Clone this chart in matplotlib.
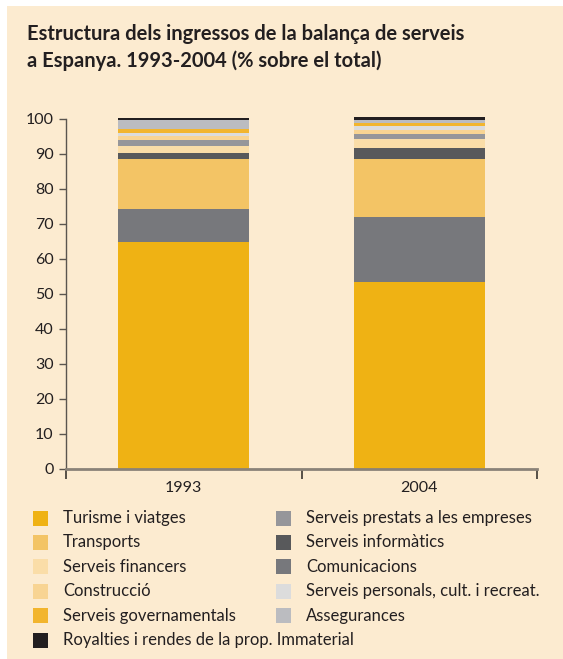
import matplotlib.pyplot as plt
from matplotlib.patches import Rectangle
import numpy as np

plt.rcParams['font.family'] = ['Lato', 'DejaVu Sans']

# categories and shares (% sobre el total)
years = ['1993', '2004']

# series listed in stacking order (bottom -> top)
series = ['Turisme i viatges', 'Comunicacions', 'Transports', 'Serveis informàtics',
          'Serveis financers', 'Serveis prestats a les empreses', 'Construcció',
          'Serveis personals, cult. i recreat.', 'Serveis governamentals',
          'Assegurances', 'Royalties i rendes de la prop. Immaterial']
v1993 = [64.8, 9.5, 14.3, 1.7, 1.9, 1.8, 1.1, 0.9, 1.1, 2.5, 0.6]
v2004 = [53.5, 18.5, 16.6, 3.1, 2.5, 1.5, 1.1, 1.2, 0.8, 0.9, 0.8]

colors = {
    'Turisme i viatges': '#EFB214',
    'Transports': '#F3C465',
    'Serveis financers': '#FADDA8',
    'Construcció': '#F8D493',
    'Serveis governamentals': '#F2B52E',
    'Royalties i rendes de la prop. Immaterial': '#231F20',
    'Serveis prestats a les empreses': '#96969A',
    'Serveis informàtics': '#58595B',
    'Comunicacions': '#77787C',
    'Serveis personals, cult. i recreat.': '#DCDCDC',
    'Assegurances': '#BBBCC0',
}

# legend order: left column then right column
legend_left = ['Turisme i viatges', 'Transports', 'Serveis financers', 'Construcció',
               'Serveis governamentals', 'Royalties i rendes de la prop. Immaterial']
legend_right = ['Serveis prestats a les empreses', 'Serveis informàtics', 'Comunicacions',
                'Serveis personals, cult. i recreat.', 'Assegurances']

W, H = 563, 659
bg = '#FCEBD0'
txt = '#231F20'

fig = plt.figure(figsize=(W / 100, H / 100), dpi=100, facecolor='white')
# beige panel
fig.patches.append(Rectangle((7 / W, 0), 1, 1 - 6 / H, transform=fig.transFigure,
                             facecolor=bg, edgecolor='none', zorder=-10))

fig.text(27 / W, 1 - 40 / H, 'Estructura dels ingressos de la balança de serveis',
         fontsize=14.5, fontweight='bold', color=txt, va='baseline')
fig.text(27 / W, 1 - 67 / H, 'a Espanya. 1993-2004 (% sobre el total)',
         fontsize=14.5, fontweight='bold', color=txt, va='baseline')

ax = fig.add_axes([66 / W, 1 - 468.7 / H, 471 / W, 349.7 / H])
ax.set_facecolor('none')

x = np.arange(len(years))
data = np.array([v1993, v2004]).T
bottom = np.zeros(len(years))
for name, vals in zip(series, data):
    ax.bar(x, vals, bottom=bottom, width=0.556, color=colors[name], linewidth=0,
           clip_on=False)
    bottom += vals

ax.set_xlim(-0.5, 1.5)
ax.set_ylim(0, 100)
ax.set_yticks(range(0, 101, 10))
ax.set_xticks(x)
ax.set_xticklabels(years)
ax.set_xticks([-0.5, 0.5, 1.5], minor=True)

for s in ['top', 'right']:
    ax.spines[s].set_visible(False)
ax.spines['left'].set_color('#5a554f')
ax.spines['left'].set_linewidth(1.0)
ax.spines['bottom'].set_color('#8a8278')
ax.spines['bottom'].set_linewidth(2.0)

ax.tick_params(axis='y', length=5, width=1, color='#5a554f', labelsize=11.5,
               labelcolor=txt, pad=4)
ax.tick_params(axis='x', which='major', length=0, labelsize=11.5, labelcolor=txt, pad=9)
ax.tick_params(axis='x', which='minor', length=7, width=1.2, color='#3a3530')

# legend drawn by hand
def legend_col(names, xs, xt):
    for i, name in enumerate(names):
        yc = 518 + i * 24.4
        fig.patches.append(Rectangle((xs / W, 1 - (yc + 7.5) / H), 15 / W, 15 / H,
                                     transform=fig.transFigure, facecolor=colors[name],
                                     edgecolor='none'))
        fig.text(xt / W, 1 - yc / H, name, fontsize=12, color=txt, va='center')

legend_col(legend_left, 33, 63)
legend_col(legend_right, 276, 306)

fig.savefig('out.png', dpi=100, facecolor=fig.get_facecolor())
